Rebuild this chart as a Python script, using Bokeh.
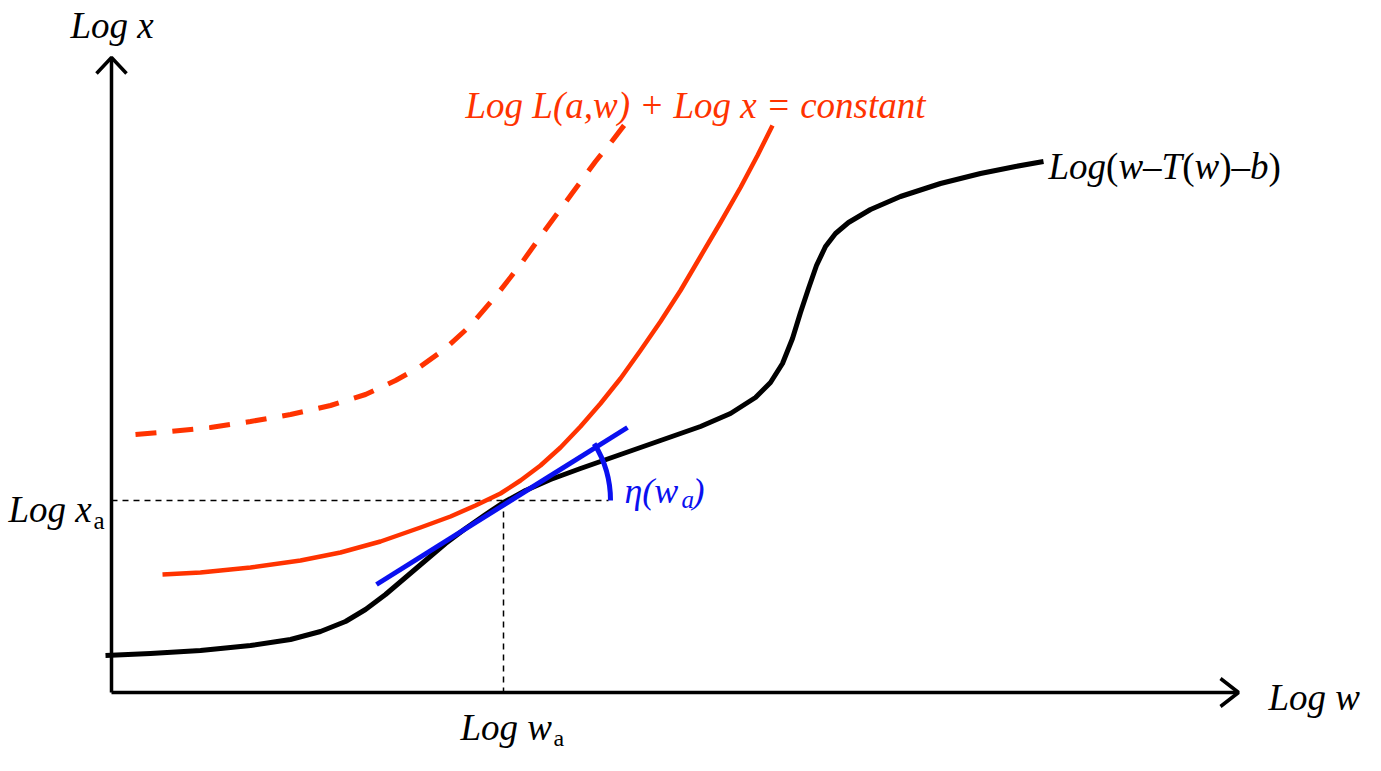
from bokeh.plotting import figure
from bokeh.models import Range1d
from bokeh.core.properties import value
from bokeh.embed import file_html
from bokeh.resources import INLINE

# Diagram data (screen-like coordinates)
black_x = [105, 150, 200, 250, 290, 320, 345, 365, 385, 405, 425, 445, 465, 485, 503, 525, 550, 580, 620,
           660, 700, 730, 755, 770, 782, 792, 800, 808, 816, 825, 835, 848, 870, 900, 940, 980, 1015, 1043]
black_y = [655, 653, 650, 645, 639, 631, 621, 609, 594, 577, 560, 543, 528, 514, 502, 490, 479, 468, 454,
           440, 426, 413, 397, 382, 363, 338, 312, 288, 265, 246, 233, 222, 209, 196, 183, 173, 166, 161]

red_x = [162, 200, 250, 300, 340, 380, 420, 450, 475, 500, 520, 540, 560, 580, 600, 620, 640, 660, 680, 700, 720, 740, 757, 772]
red_y = [574, 572, 567, 560, 552, 541, 527, 516, 505, 493, 480, 465, 447, 426, 403, 378, 350, 321, 290, 256, 222, 187, 155, 125]

dash_x = [135, 170, 210, 250, 290, 330, 365, 395, 420, 445, 470, 495, 520, 545, 570, 595, 612, 625]
dash_y = [434, 431, 427, 421, 414, 405, 394, 380, 366, 348, 325, 296, 264, 229, 195, 161, 140, 123]

tangent_x = [376, 627]
tangent_y = [584, 427]

tangency_point = (503, 500)
axis_origin = (111, 692)
y_axis_top = 57
x_axis_right = 1238

W, H = 1365, 755
p = figure(width=W, height=H, x_range=Range1d(0, W), y_range=Range1d(H, 0),
           output_backend="svg", toolbar_location=None, min_border=0)
p.axis.visible = False
p.grid.visible = False
p.outline_line_color = None
p.background_fill_color = "white"

ox, oy = axis_origin
tx, ty = tangency_point
RED = "#FF3300"
BLUE = "#0A10F0"

# axes with open arrowheads
p.line([ox, ox], [oy, y_axis_top + 1], line_color="black", line_width=3.5)
p.line([ox - 15, ox, ox + 15], [y_axis_top + 16, y_axis_top, y_axis_top + 16], line_color="black", line_width=3.5)
p.line([ox, x_axis_right - 1], [oy, oy], line_color="black", line_width=3.5)
p.line([x_axis_right - 18, x_axis_right, x_axis_right - 18], [oy - 14, oy, oy + 14], line_color="black", line_width=3.5)

# dashed guide lines
p.line([ox, 608], [ty, ty], line_color="black", line_width=1.5, line_dash="6 5")
p.line([tx, tx], [ty, oy], line_color="black", line_width=1.5, line_dash="6 5")

# curves
p.line(dash_x, dash_y, line_color=RED, line_width=5, line_dash="21 16", line_join="round")
p.line(red_x, red_y, line_color=RED, line_width=4.5, line_join="round")
p.line(black_x, black_y, line_color="black", line_width=5, line_join="round")
p.line(tangent_x, tangent_y, line_color=BLUE, line_width=5)

# angle arc
p.arc(x=[tx], y=[ty], radius=107, radius_units="screen", start_angle=0.0, end_angle=0.56,
      direction="anticlock", line_color=BLUE, line_width=5)

FONT = value("Liberation Serif")
FS = 37

def label(x, y, txt, color="black", size=FS, style="italic", align="left", baseline="middle"):
    p.text(x=[x], y=[y], text=[txt], text_font=FONT, text_font_size=f"{size}px",
           text_font_style=style, text_color=color, text_align=align, text_baseline=baseline)

# advance widths (em) of Times-metric glyphs used in the mixed-style label
ADV = {"Log": 1.556, "(": 0.333, ")": 0.333, "w": 0.667, "\u2013": 0.5, "T": 0.556, ")\u2013": 0.833, "b": 0.5}

def mixed(x, y, pieces, color="black", size=FS):
    for txt, style in pieces:
        label(x, y, txt, color=color, size=size, style=style)
        x += ADV[txt] * size

label(70, 25, "Log x")
label(465, 105, "Log L(a,w) + Log x = constant", color=RED)
mixed(1048, 166, [("Log", "italic"), ("(", "normal"), ("w", "italic"), ("\u2013", "normal"),
                  ("T", "italic"), ("(", "normal"), ("w", "italic"), (")\u2013", "normal"),
                  ("b", "italic"), (")", "normal")])
label(1268, 697, "Log w")
label(8, 509, "Log x")
label(93, 520, "a", style="normal", size=25)
label(460, 727, "Log w")
label(553, 737, "a", style="normal", size=24)
label(624, 490, "\u03b7(w", color=BLUE, size=36)
label(681, 499, "a", color=BLUE, size=25)
label(692, 490, ")", color=BLUE, size=36)

open("out.html", "w").write(file_html(p, INLINE))
